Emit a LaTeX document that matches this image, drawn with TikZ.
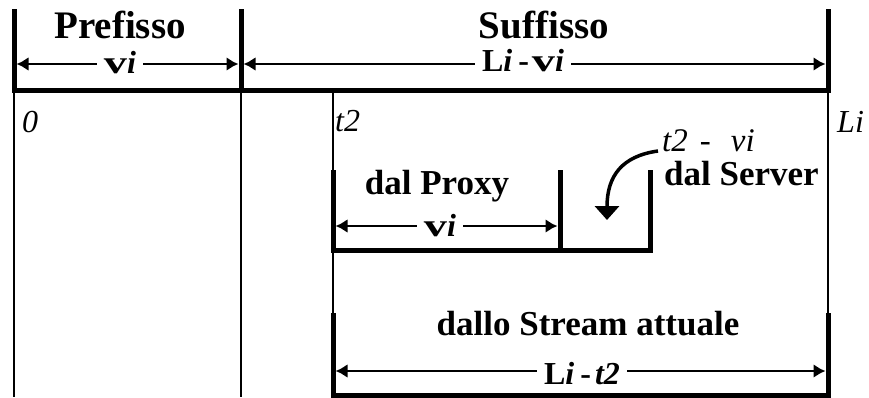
\documentclass[tikz,border=0pt]{standalone}
\usepackage{fontspec}
\setmainfont[Ligatures=NoCommon]{Liberation Serif}
\usetikzlibrary{arrows.meta}

\newcommand{\wv}{\scalebox{1.45}[1]{v}}

\begin{document}
\begin{tikzpicture}[x=1pt, y=-1pt, >={Latex[length=12pt, width=14pt]}, line join=miter,
        bar/.style={line width=5pt},
        guide/.style={line width=1.2pt},
        dimline/.style={<->, line width=2.4pt},
        curvearrow/.style={line width=3.5pt, -{Triangle[length=14pt, width=24pt]}},
        bigtxt/.style={font=\fontsize{39}{42}\selectfont\bfseries, inner sep=0pt, anchor=base},
        labtxt/.style={font=\fontsize{35}{38}\selectfont\bfseries, inner sep=0pt, anchor=base},
        dimtxt/.style={font=\fontsize{32}{34}\selectfont\bfseries, fill=white, inner xsep=7pt, inner ysep=1pt, anchor=base},
        postxt/.style={font=\fontsize{32}{34}\selectfont\itshape, inner sep=0pt, anchor=base west}]

        \useasboundingbox (0,0) rectangle (869,397);

        % --- PARAMETERS ---
        \def\xA{14} \def\xB{241} \def\xC{333} \def\xD{560} \def\xE{650} \def\xF{828}
        \def\yT{64}

        % --- GUIDE LINES ---
        \draw[guide] (\xA,90) -- (\xA,397);
        \draw[guide] (\xB,90) -- (\xB,397);
        \draw[guide] (\xC,90) -- (\xC,397);
        \draw[guide] (\xF,90) -- (\xF,397);

        % --- HEADER ---
        \draw[bar] (\xA,9) -- (\xA,90) -- (\xF,90) -- (\xF,9);
        \draw[bar] (\xB,9) -- (\xB,90);
        \coordinate (preL) at ({\xA+2.5},\yT);
        \coordinate (preR) at ({\xB-2.5},\yT);
        \coordinate (sufL) at ({\xB+2.5},\yT);
        \coordinate (sufR) at ({\xF-2.5},\yT);
        \node[bigtxt] (prefisso) at (120,38) {Prefisso};
        \node[bigtxt] (suffisso) at (544,38) {Suffisso};
        \draw[dimline] (preL) -- (preR);
        \draw[dimline] (sufL) -- (sufR);
        \node[dimtxt] (previ) at (120,73) {\wv\textit{i}};
        \node[dimtxt] (suflen) at (523,71) {L\textit{i}\hspace{6pt}-\hspace{3pt}\wv\textit{i}};

        % --- TIME MARKS ---
        \node[postxt] (zero) at (22,132) {0};
        \node[postxt] (tdue) at (335,131) {t2};
        \node[postxt] (li) at (837,132) {Li};

        % --- PROXY AND SERVER ---
        \draw[bar] (\xC,170) -- (\xC,250) -- (\xE,250) -- (\xE,170);
        \draw[bar] (\xD,170) -- (\xD,250);
        \coordinate (proL) at ({\xC+2.5},226);
        \coordinate (proR) at ({\xD-2.5},226);
        \draw[dimline] (proL) -- (proR);
        \node[dimtxt] (provi) at (440,236) {\wv\textit{i}};
        \node[labtxt] (proxy) at (437,194) {dal Proxy};
        \node[labtxt, anchor=base west] (server) at (664,185) {dal Server};
        \node[postxt, font=\fontsize{33}{35}\selectfont\itshape] (delta) at (662,151) {t2\hspace{12pt}-\hspace{20pt}vi};
        \coordinate (srvE) at (607,220);
        \draw[curvearrow] ([shift={(-4,0)}]delta.base west) .. controls (622,156) and (607,176) .. (srvE);

        % --- CURRENT STREAM ---
        \draw[bar] (\xC,313) -- (\xC,395) -- (\xF,395) -- (\xF,313);
        \coordinate (strL) at ({\xC+2.5},371);
        \coordinate (strR) at ({\xF-2.5},371);
        \draw[dimline] (strL) -- (strR);
        \node[labtxt] (stream) at (588,335) {dallo Stream attuale};
        \node[dimtxt] (strlen) at (582,384) {L\textit{i}\hspace{6pt}-\hspace{4pt}\textit{t2}};

    \end{tikzpicture}
\end{document}
